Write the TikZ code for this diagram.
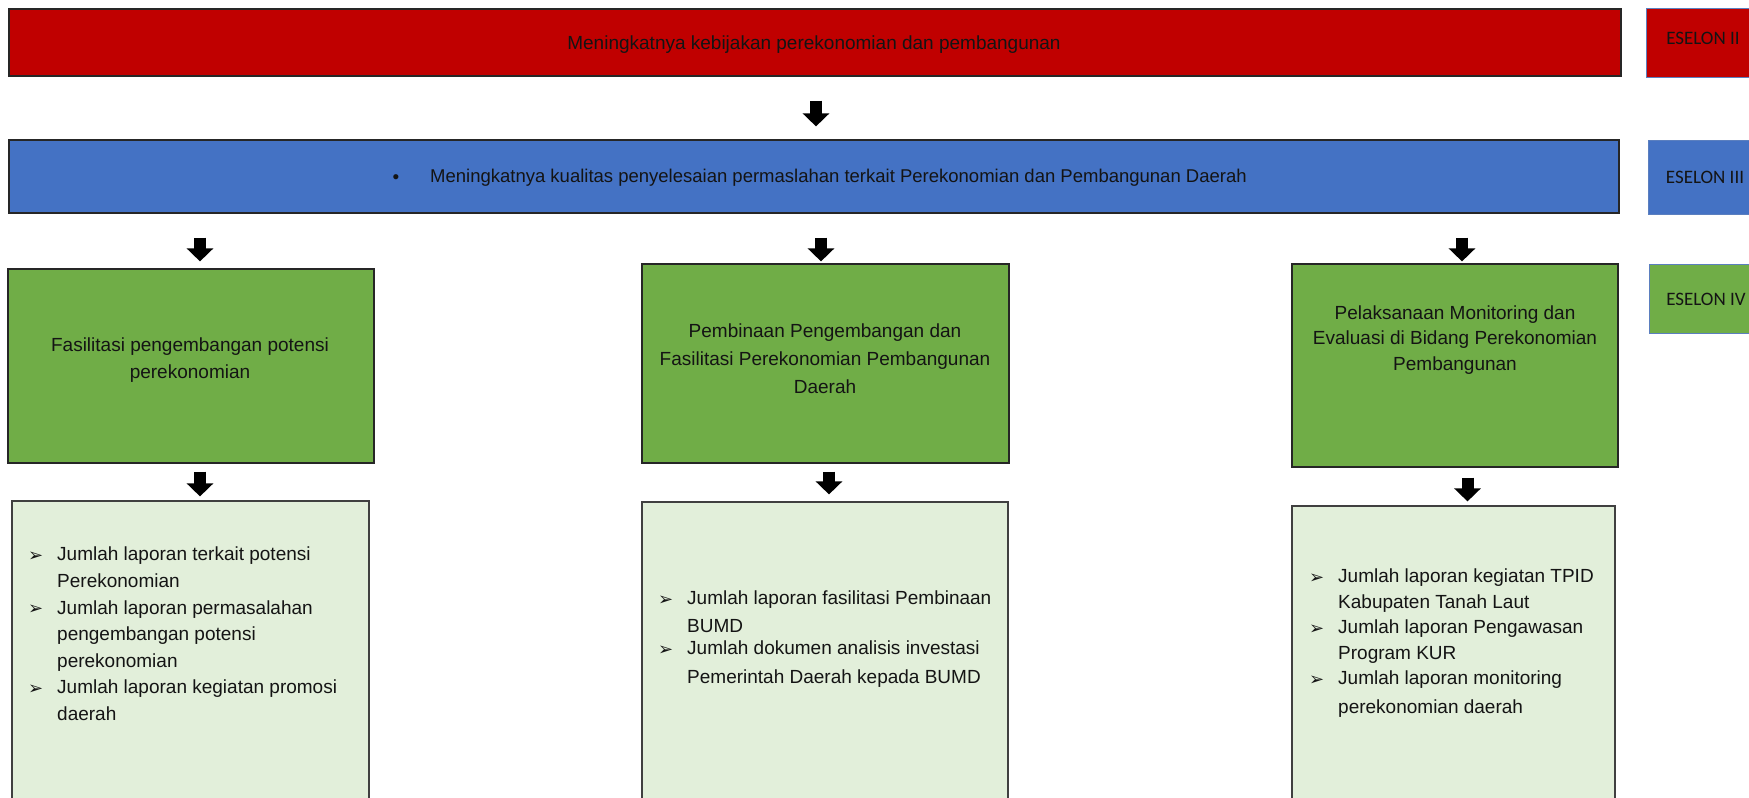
\documentclass[tikz,border=0pt]{standalone}
\usepackage{fontspec}
\setmainfont{Liberation Sans}
\newfontfamily\eselonfont{Carlito}
\newfontfamily\symfont{DejaVu Sans}
\usetikzlibrary{arrows.meta, calc}

\definecolor{esII}{HTML}{C00000}
\definecolor{esIII}{HTML}{4472C4}
\definecolor{esIV}{HTML}{70AD47}
\definecolor{indik}{HTML}{E2EFDA}
\definecolor{esline}{HTML}{5B7FBF}
\definecolor{teks}{HTML}{141414}

\newcommand{\bul}{\makebox[29pt][l]{\raisebox{-0.5pt}{\symfont\fontsize{18}{18}\selectfont ➢}}}
\newcommand{\ind}{\hspace*{29pt}}

\begin{document}
\begin{tikzpicture}[x=1pt, y=-1pt,
		kotak/.style={draw=black!85, line width=1.2pt, inner sep=0pt},
		indikator/.style={draw=black!75, fill=indik, line width=1.2pt, inner sep=0pt},
		label/.style={inner sep=0pt, text=teks, font=\fontsize{19}{26}\selectfont},
		panah/.style={line width=12pt, -{Triangle[width=26pt, length=13pt]}}]
		\useasboundingbox (0,0) rectangle (1749,798);
		\clip (0,0) rectangle (1749,798);

		% eselon boxes on the right
		\foreach \lvl/\cx/\cy/\ty/\h/\col in {II/1703/42.5/38/69/esII, III/1705/177/177/74/esIII, IV/1706/298.5/299/69/esIV} {
			\node[draw=esline, line width=1pt, fill=\col, minimum width=114pt, minimum height=\h pt] (es-\lvl) at (\cx,\cy) {};
			\node[text=teks, inner sep=0pt, font=\eselonfont\fontsize{19}{19}\selectfont] (t-es-\lvl) at (\cx,\ty) {ESELON \lvl};
		}

		\node[kotak, fill=esII, minimum width=1612pt, minimum height=67pt] (tujuan) at (815,42.5) {};
		\node[label] (t-tujuan) at (814,45) {Meningkatnya kebijakan perekonomian dan pembangunan};

		\node[kotak, fill=esIII, minimum width=1610pt, minimum height=73pt] (sasaran) at (814,176.5) {};
		\node[label] (b-sasaran) at (396,179) {•};
		\node[label, anchor=west, font=\fontsize{18.5}{26}\selectfont] (t-sasaran) at (430,178) {Meningkatnya kualitas penyelesaian permaslahan terkait Perekonomian dan Pembangunan Daerah};

		\node[kotak, fill=esIV, minimum width=366pt, minimum height=194pt] (g1) at (191,366) {};
		\node[kotak, fill=esIV, minimum width=367pt, minimum height=199pt] (g2) at (825.5,363.5) {};
		\node[kotak, fill=esIV, minimum width=326pt, minimum height=203pt] (g3) at (1455,365.5) {};
		\node[label, align=center, font=\fontsize{19}{26.8}\selectfont] (t-g1) at (190,360) {Fasilitasi pengembangan potensi\\perekonomian};
		\node[label, align=center, font=\fontsize{19}{28}\selectfont] (t-g2) at (825,359) {Pembinaan Pengembangan dan\\Fasilitasi Perekonomian Pembangunan\\Daerah};
		\node[label, align=center, font=\fontsize{19}{25.7}\selectfont] (t-g3) at (1455,340) {Pelaksanaan Monitoring dan\\Evaluasi di Bidang Perekonomian\\Pembangunan};

		\node[indikator, minimum width=357pt, minimum height=301pt] (i1) at (190.5,651.5) {};
		\node[indikator, minimum width=366pt, minimum height=300pt] (i2) at (825,652) {};
		\node[indikator, minimum width=323pt, minimum height=296pt] (i3) at (1453.5,654) {};

		\node[label, align=left, anchor=north west, font=\fontsize{19}{26.6}\selectfont] (t-i1) at (28,547) {%
			\bul Jumlah laporan terkait potensi\\
			\ind Perekonomian\\
			\bul Jumlah laporan permasalahan\\
			\ind pengembangan potensi\\
			\ind perekonomian\\
			\bul Jumlah laporan kegiatan promosi\\
			\ind daerah};
		\node[label, align=left, anchor=north west, font=\fontsize{19}{22}\selectfont] (t-i2) at (658,591) {%
			\bul Jumlah laporan fasilitasi Pembinaan\\[6pt]
			\ind BUMD\\
			\bul Jumlah dokumen analisis investasi\\[7pt]
			\ind Pemerintah Daerah kepada BUMD};
		\node[label, align=left, anchor=north west, font=\fontsize{19}{25.4}\selectfont] (t-i3) at (1309,569) {%
			\bul Jumlah laporan kegiatan TPID\\
			\ind Kabupaten Tanah Laut\\
			\bul Jumlah laporan Pengawasan\\
			\ind Program KUR\\
			\bul Jumlah laporan monitoring\\[3.6pt]
			\ind perekonomian daerah};

		\draw[panah] ($(tujuan.south)+(1,24)$) -- ($(sasaran.north)+(2,-13)$);
		\draw[panah] ($(sasaran.south -| g1.north)+(9,24)$) -- ($(g1.north)+(9,-7)$);
		\draw[panah] ($(sasaran.south -| g2.north)+(-4.5,24)$) -- ($(g2.north)+(-4.5,-2)$);
		\draw[panah] ($(sasaran.south -| g3.north)+(7,24)$) -- ($(g3.north)+(7,-2)$);
		\draw[panah] ($(g1.south)+(9,8)$) -- ($(i1.north)+(9.5,-4)$);
		\draw[panah] ($(g2.south)+(3.5,8)$) -- ($(i2.north)+(4,-7)$);
		\draw[panah] ($(g3.south)+(12.5,10)$) -- ($(i3.north)+(14,-4)$);
	\end{tikzpicture}
\end{document}
